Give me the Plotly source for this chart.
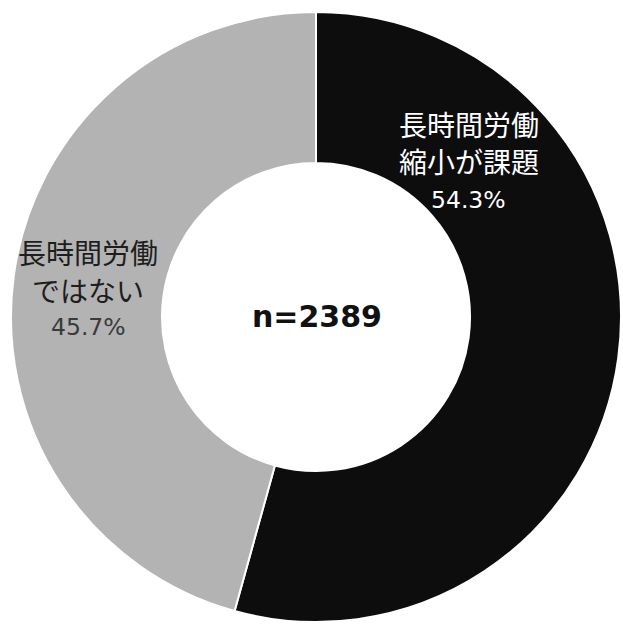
import plotly.graph_objects as go

labels = ["長時間労働縮小が課題", "長時間労働ではない"]
label_lines = [["長時間労働", "縮小が課題"], ["長時間労働", "ではない"]]
values = [54.3, 45.7]
colors = ["#0d0d0d", "#b3b3b3"]
center_text = "n=2389"

W, H = 623, 628
cx, cy, R = 316, 317, 305  # pixel center (from top) and radius

fig = go.Figure(go.Pie(
    labels=labels,
    values=values,
    hole=0.505,
    sort=False,
    direction="clockwise",
    rotation=0,
    textinfo="none",
    hoverinfo="label+percent",
    marker=dict(colors=colors, line=dict(color="#ffffff", width=2)),
    domain=dict(x=[(cx - R) / W, (cx + R) / W],
                y=[(H - cy - R) / H, (H - cy + R) / H]),
    showlegend=False,
))

font_jp = "Noto Sans CJK JP"
font_num = "DejaVu Sans"

def px(x, y):
    return x / W, 1 - y / H

annotations = []
label_pos = [(469, [124, 161, 200]), (88, [252, 290, 327])]
text_colors = [("#ffffff", "#ffffff"), ("#1e1e1e", "#3a3a3a")]
for i, (lx, ys) in enumerate(label_pos):
    lines = label_lines[i] + [f"{values[i]:.1f}%"]
    for j, (line, ly) in enumerate(zip(lines, ys)):
        is_pct = j == len(lines) - 1
        x, y = px(lx, ly)
        annotations.append(dict(
            x=x, y=y, xref="paper", yref="paper", showarrow=False,
            text=line, xanchor="center", yanchor="middle",
            font=dict(family=font_num if is_pct else font_jp,
                      size=23.5 if is_pct else 28,
                      color=text_colors[i][1] if is_pct else text_colors[i][0]),
        ))

x, y = px(317, 316)
annotations.append(dict(
    x=x, y=y, xref="paper", yref="paper", showarrow=False,
    text=f"<b>{center_text}</b>", xanchor="center", yanchor="middle",
    font=dict(family=font_num, size=30, color="#111111"),
))

fig.update_layout(
    width=W, height=H,
    margin=dict(l=0, r=0, t=0, b=0),
    paper_bgcolor="#ffffff",
    plot_bgcolor="#ffffff",
    annotations=annotations,
)

fig.write_html("out.html")
